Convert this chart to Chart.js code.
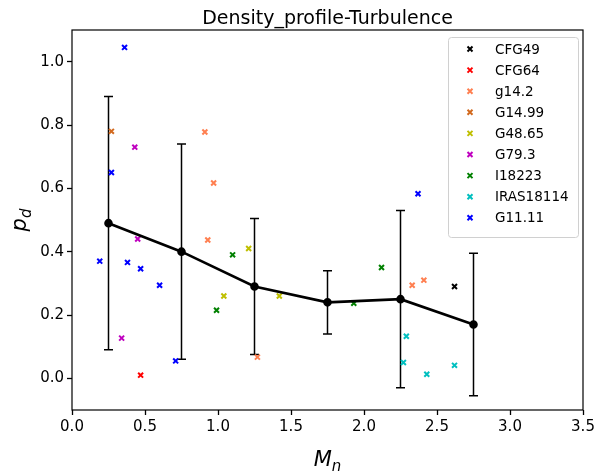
<!DOCTYPE html>
<html>
<head>
<meta charset="utf-8">
<script src="https://cdn.jsdelivr.net/npm/chart.js@4"></script>
<style>
  html, body { margin: 0; padding: 0; background: #fff; }
  #wrap { width: 600px; height: 472px; }
</style>
</head>
<body>
<div id="wrap"><canvas id="chart" width="600" height="472"></canvas></div>
<script>
// values
const sources = ['CFG49', 'CFG64', 'g14.2', 'G14.99', 'G48.65', 'G79.3', 'I18223', 'IRAS18114', 'G11.11'];
const colors = ['#000000', '#ff0000', '#ff7f50', '#d2691e', '#bfbf00', '#bf00bf', '#008000', '#00bfbf', '#0000ff'];

const CFG49 = [[2.62, 0.29]];
const CFG64 = [[0.47, 0.01]];
const g14_2 = [[0.91, 0.778], [0.97, 0.617], [0.93, 0.437], [1.27, 0.067], [2.33, 0.294], [2.41, 0.31]];
const G14_99 = [[0.27, 0.78]];
const G48_65 = [[1.21, 0.41], [1.04, 0.26], [1.42, 0.26]];
const G79_3 = [[0.43, 0.73], [0.45, 0.44], [0.34, 0.127]];
const I18223 = [[1.10, 0.39], [0.99, 0.215], [2.12, 0.35], [1.93, 0.237]];
const IRAS18114 = [[2.29, 0.133], [2.27, 0.05], [2.43, 0.013], [2.62, 0.041]];
const G11_11 = [[0.36, 1.045], [0.27, 0.65], [0.19, 0.37], [0.38, 0.366], [0.47, 0.346], [0.60, 0.294], [0.71, 0.055], [2.37, 0.583]];
const points = [CFG49, CFG64, g14_2, G14_99, G48_65, G79_3, I18223, IRAS18114, G11_11];

// binned mean and spread
const binCenters = [0.25, 0.75, 1.25, 1.75, 2.25, 2.75];
const binMeans = [0.49, 0.40, 0.29, 0.24, 0.25, 0.17];
const binErrors = [0.40, 0.34, 0.215, 0.10, 0.28, 0.225];

const xTicks = [0, 0.5, 1, 1.5, 2, 2.5, 3, 3.5];
const yTicks = [0, 0.2, 0.4, 0.6, 0.8, 1.0];

const FONT = "'DejaVu Sans', sans-serif";

const datasets = sources.map((name, i) => ({
  type: 'scatter',
  label: name,
  data: points[i].map(p => ({x: p[0], y: p[1]})),
  borderColor: colors[i],
  backgroundColor: colors[i],
  pointStyle: 'crossRot',
  pointRadius: 3.5,
  borderWidth: 2,
  order: 2
}));

datasets.push({
  type: 'line',
  label: 'mean',
  data: binCenters.map((x, i) => ({x: x, y: binMeans[i]})),
  borderColor: '#000',
  backgroundColor: '#000',
  borderWidth: 2.6,
  pointRadius: 3,
  pointHoverRadius: 3,
  order: 1
});

// error bars, frame, title, labels, legend
const extras = {
  id: 'extras',
  beforeDatasetsDraw(chart) {
    const ctx = chart.ctx, xs = chart.scales.x, ys = chart.scales.y;
    ctx.save();
    ctx.strokeStyle = '#000';
    ctx.lineWidth = 1.5;
    binCenters.forEach((c, i) => {
      const px = xs.getPixelForValue(c);
      const top = ys.getPixelForValue(binMeans[i] + binErrors[i]);
      const bot = ys.getPixelForValue(binMeans[i] - binErrors[i]);
      ctx.beginPath();
      ctx.moveTo(px, top); ctx.lineTo(px, bot);
      ctx.moveTo(px - 4.5, top); ctx.lineTo(px + 4.5, top);
      ctx.moveTo(px - 4.5, bot); ctx.lineTo(px + 4.5, bot);
      ctx.stroke();
    });
    ctx.restore();
  },
  afterDraw(chart) {
    const ctx = chart.ctx, a = chart.chartArea;
    ctx.save();
    // frame
    ctx.strokeStyle = '#000';
    ctx.lineWidth = 1.2;
    ctx.strokeRect(a.left, a.top, a.right - a.left, a.bottom - a.top);

    // title
    ctx.fillStyle = '#000';
    ctx.font = '19px ' + FONT;
    ctx.textAlign = 'center';
    ctx.textBaseline = 'alphabetic';
    ctx.fillText('Density_profile-Turbulence', (a.left + a.right) / 2, 24);

    // x label M_n
    const cx = (a.left + a.right) / 2;
    ctx.font = 'italic 21px ' + FONT;
    ctx.textAlign = 'left';
    const wM = ctx.measureText('M').width;
    ctx.font = 'italic 15px ' + FONT;
    const wn = ctx.measureText('n').width;
    let x0 = cx - (wM + wn) / 2;
    ctx.font = 'italic 21px ' + FONT;
    ctx.fillText('M', x0, 466);
    ctx.font = 'italic 15px ' + FONT;
    ctx.fillText('n', x0 + wM, 471);

    // y label p_d
    ctx.translate(26, (a.top + a.bottom) / 2);
    ctx.rotate(-Math.PI / 2);
    ctx.font = 'italic 21px ' + FONT;
    const wp = ctx.measureText('p').width;
    ctx.font = 'italic 15px ' + FONT;
    const wd = ctx.measureText('d').width;
    x0 = -(wp + wd) / 2;
    ctx.font = 'italic 21px ' + FONT;
    ctx.fillText('p', x0, 0);
    ctx.font = 'italic 15px ' + FONT;
    ctx.fillText('d', x0 + wp, 5);
    ctx.restore();

    // legend
    ctx.save();
    const lx = 448, ly = 37, lw = 130, lh = 200;
    ctx.fillStyle = 'rgba(255,255,255,0.8)';
    ctx.strokeStyle = '#d0d0d0';
    ctx.lineWidth = 1;
    ctx.beginPath();
    ctx.roundRect(lx + 0.5, ly + 0.5, lw, lh, 3);
    ctx.fill();
    ctx.stroke();
    ctx.font = '13.5px ' + FONT;
    ctx.textAlign = 'left';
    ctx.textBaseline = 'middle';
    sources.forEach((name, i) => {
      const yy = ly + 12 + i * 21.1;
      const mx = lx + 22;
      ctx.strokeStyle = colors[i];
      ctx.lineWidth = 2;
      ctx.beginPath();
      ctx.moveTo(mx - 2.5, yy - 2.5); ctx.lineTo(mx + 2.5, yy + 2.5);
      ctx.moveTo(mx - 2.5, yy + 2.5); ctx.lineTo(mx + 2.5, yy - 2.5);
      ctx.stroke();
      ctx.fillStyle = '#000';
      ctx.fillText(name, lx + 47, yy + 1);
    });
    ctx.restore();
  }
};

const chart = new Chart(document.getElementById('chart').getContext('2d'), {
  data: { datasets: datasets },
  options: {
    responsive: false,
    animation: false,
    events: [],
    layout: { padding: { top: 30, right: 17, left: 0, bottom: 0 } },
    plugins: {
      legend: { display: false },
      title: { display: false },
      tooltip: { enabled: false }
    },
    scales: {
      x: {
        type: 'linear',
        min: 0, max: 3.5,
        afterBuildTicks: s => { s.ticks = xTicks.map(v => ({value: v})); },
        afterFit: s => { s.height = 62; },
        grid: { drawOnChartArea: false, tickLength: 5, tickWidth: 1.3, color: '#000' },
        border: { display: false },
        ticks: {
          color: '#000',
          padding: 3,
          font: { family: FONT, size: 15 },
          maxRotation: 0,
          callback: v => v.toFixed(1)
        }
      },
      y: {
        type: 'linear',
        min: -0.1, max: 1.1,
        afterBuildTicks: s => { s.ticks = yTicks.map(v => ({value: v})); },
        afterFit: s => { s.width = 72; },
        grid: { drawOnChartArea: false, tickLength: 5, tickWidth: 1.3, color: '#000' },
        border: { display: false },
        ticks: {
          color: '#000',
          padding: 3,
          font: { family: FONT, size: 15 },
          callback: v => v.toFixed(1)
        }
      }
    }
  },
  plugins: [extras]
});
</script>
</body>
</html>
